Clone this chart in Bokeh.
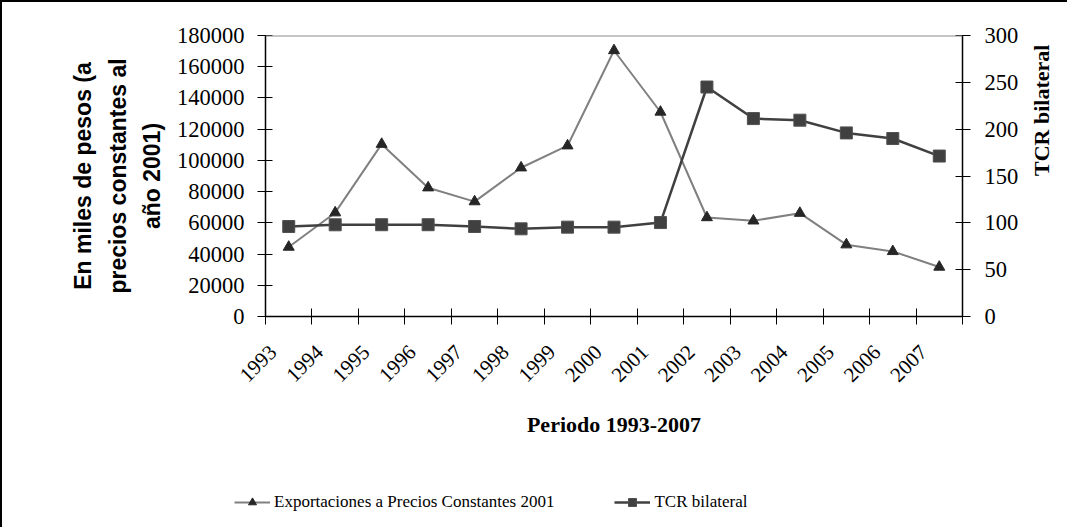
import math
from bokeh.plotting import figure
from bokeh.models import (Range1d, LinearAxis, FixedTicker, NumeralTickFormatter,
                          Legend, LegendItem, Span)
from bokeh.embed import file_html
from bokeh.resources import INLINE

years = ["1993", "1994", "1995", "1996", "1997", "1998", "1999", "2000",
         "2001", "2002", "2003", "2004", "2005", "2006", "2007"]
exportaciones = [44500, 66500, 110400, 82500, 73600, 95300, 109400, 170400,
                 131000, 63400, 61300, 66200, 46000, 41700, 31700]
tcr = [96.1, 97.9, 98.0, 98.0, 96.1, 93.6, 95.4, 95.4,
       100.3, 245.0, 211.3, 209.6, 196.0, 190.0, 171.3]
left_ticks = [0, 20000, 40000, 60000, 80000, 100000, 120000, 140000, 160000, 180000]
right_ticks = [0, 50, 100, 150, 200, 250, 300]
series_names = ["Exportaciones a Precios Constantes 2001", "TCR bilateral"]

xs = [i + 0.5 for i in range(len(years))]
label_pos = [i + 0.16 for i in range(len(years))]

SERIF = "Liberation Serif"
SANS = "Liberation Sans"

EXP_LINE = "#808080"
EXP_MARK = "#262626"
TCR_LINE = "#404040"
TCR_MARK = "#404040"

p = figure(width=1067, height=450, output_backend="svg", toolbar_location=None,
           x_range=Range1d(0, len(years)), y_range=Range1d(0, 180000),
           min_border_left=263, min_border_right=104, min_border_top=33,
           min_border_bottom=136, x_axis_location=None, y_axis_location=None)
p.extra_y_ranges = {"tcr": Range1d(0, 300)}
p.outline_line_color = None
p.xgrid.visible = False
p.ygrid.visible = False
p.styles = {"border-left": "2px solid black", "border-top": "2px solid black"}

# top border line
p.add_layout(Span(location=180000, dimension="width", line_color="#8c8c8c", line_width=2))

# x axis
xaxis = LinearAxis(ticker=FixedTicker(ticks=label_pos, minor_ticks=list(range(len(years) + 1))),
                   major_label_overrides={x: y for x, y in zip(label_pos, years)})
xaxis.major_tick_in = 0
xaxis.major_tick_out = 0
xaxis.minor_tick_in = 8
xaxis.minor_tick_out = 8
xaxis.minor_tick_line_color = "black"
xaxis.minor_tick_line_width = 1
xaxis.axis_line_width = 1.5
xaxis.major_label_orientation = math.pi / 4
xaxis.major_label_standoff = 24
xaxis.major_label_text_font = SERIF
xaxis.major_label_text_font_size = "21px"
xaxis.major_label_text_color = "black"
xaxis.axis_label = "Periodo 1993-2007"
xaxis.axis_label_text_font = SERIF
xaxis.axis_label_text_font_style = "bold"
xaxis.axis_label_text_font_size = "22px"
xaxis.axis_label_text_color = "black"
xaxis.axis_label_standoff = 21
p.add_layout(xaxis, "below")

# left axis
laxis = LinearAxis(ticker=FixedTicker(ticks=left_ticks), formatter=NumeralTickFormatter(format="0"))
laxis.major_tick_in = 7
laxis.major_tick_out = 8
laxis.minor_tick_line_color = None
laxis.axis_line_width = 1.5
laxis.major_label_standoff = 13
laxis.major_label_text_font = SERIF
laxis.major_label_text_font_size = "22.5px"
laxis.major_label_text_color = "black"
laxis.axis_label = "En miles de pesos (a\nprecios constantes al\naño 2001)"
laxis.axis_label_text_font = SANS
laxis.axis_label_text_font_style = "bold"
laxis.axis_label_text_font_size = "23px"
laxis.axis_label_text_line_height = 1.32
laxis.axis_label_text_color = "black"
laxis.axis_label_standoff = 9
p.add_layout(laxis, "left")

# right axis
raxis = LinearAxis(y_range_name="tcr", ticker=FixedTicker(ticks=right_ticks))
raxis.major_tick_in = 7
raxis.major_tick_out = 8
raxis.minor_tick_line_color = None
raxis.axis_line_width = 1.5
raxis.major_label_standoff = 14
raxis.major_label_text_font = SERIF
raxis.major_label_text_font_size = "22.5px"
raxis.major_label_text_color = "black"
raxis.axis_label = "TCR bilateral"
raxis.axis_label_text_font = SERIF
raxis.axis_label_text_font_style = "bold"
raxis.axis_label_text_font_size = "22px"
raxis.axis_label_text_color = "black"
raxis.axis_label_standoff = 20
try:
    raxis.axis_label_orientation = math.pi / 2
except Exception:
    pass
p.add_layout(raxis, "right")

# series
p.line(xs, exportaciones, line_color=EXP_LINE, line_width=2)
p.scatter(xs, exportaciones, marker="triangle", size=11, fill_color=EXP_MARK, line_color=EXP_MARK)
p.line(xs, tcr, y_range_name="tcr", line_color=TCR_LINE, line_width=2.5)
p.scatter(xs, tcr, y_range_name="tcr", marker="square", size=12,
          fill_color=TCR_MARK, line_color="#505050")

# legend strip below the chart (its renderers lie outside this strip's view)
p2 = figure(width=1067, height=77, output_backend="svg", toolbar_location=None,
            x_range=Range1d(-2, -1), y_range=Range1d(-2, -1),
            min_border_left=0, min_border_right=0, min_border_top=0, min_border_bottom=0,
            x_axis_location=None, y_axis_location=None)
p2.outline_line_color = None
p2.xgrid.visible = False
p2.ygrid.visible = False
p2.styles = {"border-left": "2px solid black"}
e1 = p2.line(xs, exportaciones, line_color=EXP_LINE, line_width=2)
e2 = p2.scatter(xs, exportaciones, marker="triangle", size=11, fill_color=EXP_MARK, line_color=EXP_MARK)
t1 = p2.line(xs, tcr, line_color=TCR_LINE, line_width=2.5)
t2 = p2.scatter(xs, tcr, marker="square", size=12, fill_color=TCR_MARK, line_color="#505050")

legend = Legend(items=[LegendItem(label=series_names[0], renderers=[e1, e2]),
                       LegendItem(label=series_names[1], renderers=[t1, t2])],
                orientation="horizontal", location=(232, 15), spacing=60,
                glyph_width=36, glyph_height=20, label_standoff=4, padding=0, margin=0,
                border_line_color=None, background_fill_alpha=0,
                label_text_font=SERIF, label_text_font_size="17px", label_text_color="black")
p2.add_layout(legend, "center")

open("out.html", "w").write(file_html([p, p2], INLINE))
